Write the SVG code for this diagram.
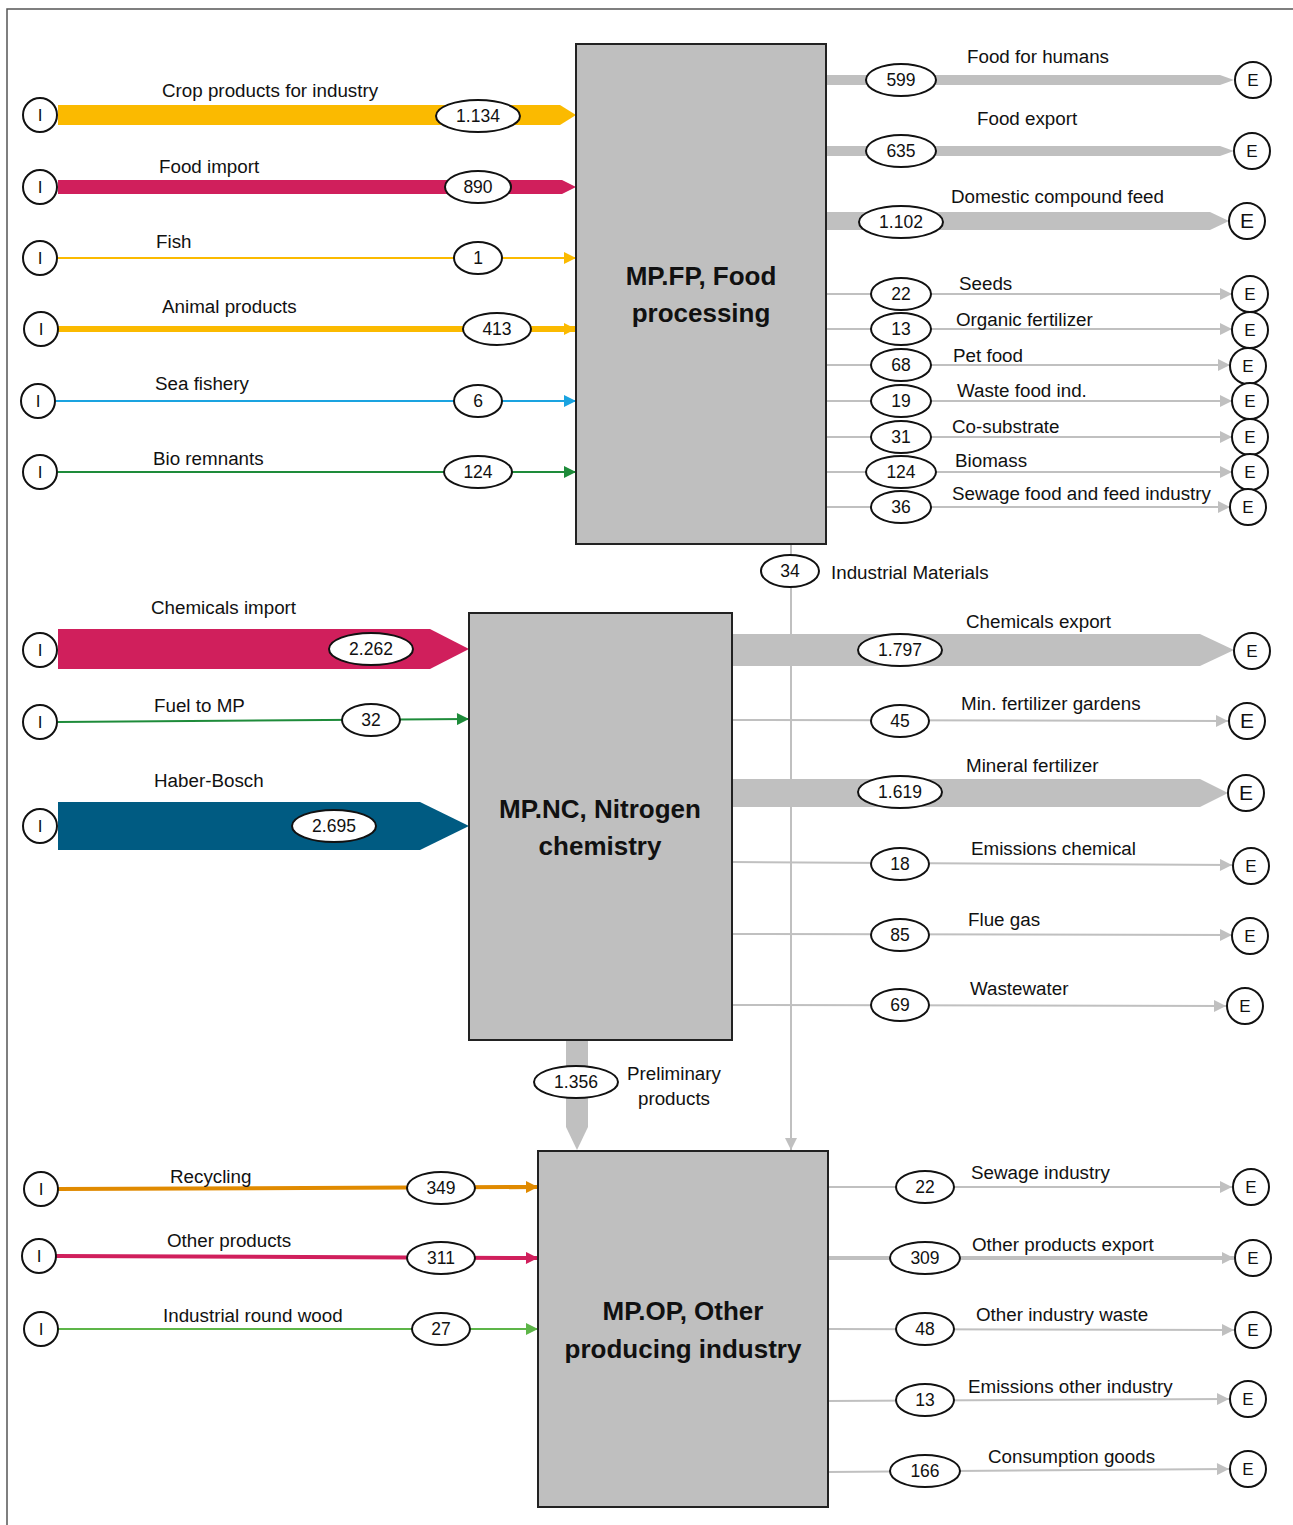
<svg xmlns="http://www.w3.org/2000/svg" width="1293" height="1525" viewBox="0 0 1293 1525">
<style>
text{font-family:"Liberation Sans",Arial,sans-serif;fill:#111;}
.lb{font-size:18.8px;}
.num{font-size:17.5px;text-anchor:middle;}
.ttl{font-size:26px;font-weight:bold;text-anchor:middle;}
.ec{font-size:17px;text-anchor:middle;}
.box{fill:#BFBFBF;stroke:#222;stroke-width:2;}
.ell{fill:#fff;stroke:#111;stroke-width:2;}
.term{fill:#fff;stroke:#111;stroke-width:2;}
.g{stroke:#C0C0C0;fill:none;}
</style>
<defs>
<marker id="mg" viewBox="0 0 10 10" refX="10" refY="5" markerUnits="userSpaceOnUse" markerWidth="16" markerHeight="12" orient="auto"><path d="M0,0L10,5L0,10z" fill="#C0C0C0"/></marker>
<marker id="mo" viewBox="0 0 10 10" refX="10" refY="5" markerUnits="userSpaceOnUse" markerWidth="14" markerHeight="12" orient="auto"><path d="M0,0L10,5L0,10z" fill="#FBBA00"/></marker>
<marker id="mb" viewBox="0 0 10 10" refX="10" refY="5" markerUnits="userSpaceOnUse" markerWidth="14" markerHeight="12" orient="auto"><path d="M0,0L10,5L0,10z" fill="#1AA3E0"/></marker>
<marker id="mgr" viewBox="0 0 10 10" refX="10" refY="5" markerUnits="userSpaceOnUse" markerWidth="14" markerHeight="12" orient="auto"><path d="M0,0L10,5L0,10z" fill="#1E8B3A"/></marker>
<marker id="mor" viewBox="0 0 10 10" refX="10" refY="5" markerUnits="userSpaceOnUse" markerWidth="14" markerHeight="12" orient="auto"><path d="M0,0L10,5L0,10z" fill="#E08A00"/></marker>
<marker id="mcr" viewBox="0 0 10 10" refX="10" refY="5" markerUnits="userSpaceOnUse" markerWidth="14" markerHeight="12" orient="auto"><path d="M0,0L10,5L0,10z" fill="#D01F5C"/></marker>
<marker id="mlg" viewBox="0 0 10 10" refX="10" refY="5" markerUnits="userSpaceOnUse" markerWidth="14" markerHeight="12" orient="auto"><path d="M0,0L10,5L0,10z" fill="#5DB548"/></marker>
</defs>
<rect x="7" y="9" width="1300" height="1530" fill="#fff" stroke="#555" stroke-width="1.5"/>

<g id="connectors">
<!-- FP inputs -->
<polygon points="58,105 560,105 576,115 560,125 58,125" fill="#FBBA00"/>
<polygon points="58,180 562,180 576,187 562,194 58,194" fill="#D01F5C"/>
<line x1="58" y1="258" x2="576" y2="258" stroke="#FBBA00" stroke-width="2" marker-end="url(#mo)"/>
<line x1="58" y1="329" x2="576" y2="329" stroke="#FBBA00" stroke-width="6" marker-end="url(#mo)"/>
<line x1="56" y1="401" x2="576" y2="401" stroke="#1AA3E0" stroke-width="2" marker-end="url(#mb)"/>
<line x1="58" y1="472" x2="576" y2="472" stroke="#1E8B3A" stroke-width="2" marker-end="url(#mgr)"/>
<!-- FP outputs -->
<polygon points="826,75 1220,75 1234,80 1220,85 826,85" fill="#C0C0C0"/>
<polygon points="826,146 1220,146 1234,151 1220,156 826,156" fill="#C0C0C0"/>
<polygon points="826,212 1210,212 1229,221 1210,230 826,230" fill="#C0C0C0"/>
<line class="g" x1="826" y1="294" x2="1232" y2="294" stroke-width="2" marker-end="url(#mg)"/>
<line class="g" x1="826" y1="329" x2="1232" y2="329" stroke-width="2" marker-end="url(#mg)"/>
<line class="g" x1="826" y1="365" x2="1230" y2="365" stroke-width="2" marker-end="url(#mg)"/>
<line class="g" x1="826" y1="401" x2="1232" y2="401" stroke-width="2" marker-end="url(#mg)"/>
<line class="g" x1="826" y1="437" x2="1232" y2="437" stroke-width="2" marker-end="url(#mg)"/>
<line class="g" x1="826" y1="472" x2="1232" y2="472" stroke-width="2" marker-end="url(#mg)"/>
<line class="g" x1="826" y1="507" x2="1230" y2="507" stroke-width="2" marker-end="url(#mg)"/>
<!-- Industrial materials -->
<line class="g" x1="791" y1="544" x2="791" y2="1150" stroke-width="2" marker-end="url(#mg)"/>
<!-- NC inputs -->
<polygon points="58,629 430,629 469,649 430,669 58,669" fill="#D01F5C"/>
<line x1="58" y1="722" x2="469" y2="719" stroke="#1E8B3A" stroke-width="2" marker-end="url(#mgr)"/>
<polygon points="58,802 420,802 469,826 420,850 58,850" fill="#005B82"/>
<!-- NC outputs -->
<polygon points="732,634 1200,634 1234,650 1200,666 732,666" fill="#C0C0C0"/>
<line class="g" x1="732" y1="720" x2="1228" y2="721" stroke-width="2" marker-end="url(#mg)"/>
<polygon points="732,779 1200,779 1228,793 1200,807 732,807" fill="#C0C0C0"/>
<line class="g" x1="732" y1="862" x2="1232" y2="865" stroke-width="2" marker-end="url(#mg)"/>
<line class="g" x1="732" y1="934" x2="1232" y2="935" stroke-width="2" marker-end="url(#mg)"/>
<line class="g" x1="732" y1="1005" x2="1226" y2="1006" stroke-width="2" marker-end="url(#mg)"/>
<!-- Preliminary products -->
<polygon points="566,1040 588,1040 588,1127 577,1150 566,1127" fill="#C0C0C0"/>
<!-- OP inputs -->
<line x1="58" y1="1189" x2="538" y2="1187" stroke="#E08A00" stroke-width="4" marker-end="url(#mor)"/>
<line x1="56" y1="1256" x2="538" y2="1258" stroke="#D01F5C" stroke-width="4" marker-end="url(#mcr)"/>
<line x1="58" y1="1329" x2="538" y2="1329" stroke="#5DB548" stroke-width="2" marker-end="url(#mlg)"/>
<!-- OP outputs -->
<line class="g" x1="828" y1="1187" x2="1232" y2="1187" stroke-width="2" marker-end="url(#mg)"/>
<line class="g" x1="828" y1="1258" x2="1234" y2="1258" stroke-width="4" marker-end="url(#mg)"/>
<line class="g" x1="828" y1="1329" x2="1234" y2="1330" stroke-width="2" marker-end="url(#mg)"/>
<line class="g" x1="828" y1="1401" x2="1229" y2="1399" stroke-width="2" marker-end="url(#mg)"/>
<line class="g" x1="828" y1="1472" x2="1229" y2="1469" stroke-width="2" marker-end="url(#mg)"/>

<!-- value ellipses and labels -->
<g id="flow-labels">
<ellipse class="ell" cx="478" cy="116" rx="42" ry="16"/><text class="num" x="478" y="122">1.134</text>
<text class="lb" x="162" y="97">Crop products for industry</text>
<ellipse class="ell" cx="478" cy="187" rx="33" ry="16"/><text class="num" x="478" y="193">890</text>
<text class="lb" x="159" y="173">Food import</text>
<ellipse class="ell" cx="478" cy="258" rx="24" ry="16"/><text class="num" x="478" y="264">1</text>
<text class="lb" x="156" y="248">Fish</text>
<ellipse class="ell" cx="497" cy="329" rx="34" ry="16"/><text class="num" x="497" y="335">413</text>
<text class="lb" x="162" y="313">Animal products</text>
<ellipse class="ell" cx="478" cy="401" rx="24" ry="16"/><text class="num" x="478" y="407">6</text>
<text class="lb" x="155" y="390">Sea fishery</text>
<ellipse class="ell" cx="478" cy="472" rx="34" ry="16"/><text class="num" x="478" y="478">124</text>
<text class="lb" x="153" y="465">Bio remnants</text>

<ellipse class="ell" cx="901" cy="80" rx="35" ry="16"/><text class="num" x="901" y="86">599</text>
<text class="lb" x="967" y="63">Food for humans</text>
<ellipse class="ell" cx="901" cy="151" rx="35" ry="16"/><text class="num" x="901" y="157">635</text>
<text class="lb" x="977" y="125">Food export</text>
<ellipse class="ell" cx="901" cy="222" rx="42" ry="16"/><text class="num" x="901" y="228">1.102</text>
<text class="lb" x="951" y="203">Domestic compound feed</text>
<ellipse class="ell" cx="901" cy="294" rx="30" ry="16"/><text class="num" x="901" y="300">22</text>
<text class="lb" x="959" y="290">Seeds</text>
<ellipse class="ell" cx="901" cy="329" rx="30" ry="16"/><text class="num" x="901" y="335">13</text>
<text class="lb" x="956" y="326">Organic fertilizer</text>
<ellipse class="ell" cx="901" cy="365" rx="30" ry="16"/><text class="num" x="901" y="371">68</text>
<text class="lb" x="953" y="362">Pet food</text>
<ellipse class="ell" cx="901" cy="401" rx="30" ry="16"/><text class="num" x="901" y="407">19</text>
<text class="lb" x="957" y="397">Waste food ind.</text>
<ellipse class="ell" cx="901" cy="437" rx="30" ry="16"/><text class="num" x="901" y="443">31</text>
<text class="lb" x="952" y="433">Co-substrate</text>
<ellipse class="ell" cx="901" cy="472" rx="35" ry="16"/><text class="num" x="901" y="478">124</text>
<text class="lb" x="955" y="467">Biomass</text>
<ellipse class="ell" cx="901" cy="507" rx="30" ry="16"/><text class="num" x="901" y="513">36</text>
<text class="lb" x="952" y="500">Sewage food and feed industry</text>

<ellipse class="ell" cx="790" cy="571" rx="29" ry="16"/><text class="num" x="790" y="577">34</text>
<text class="lb" x="831" y="579">Industrial Materials</text>

<ellipse class="ell" cx="371" cy="649" rx="42" ry="16"/><text class="num" x="371" y="655">2.262</text>
<text class="lb" x="151" y="614">Chemicals import</text>
<ellipse class="ell" cx="371" cy="720" rx="29" ry="16"/><text class="num" x="371" y="726">32</text>
<text class="lb" x="154" y="712">Fuel to MP</text>
<ellipse class="ell" cx="334" cy="826" rx="42" ry="16"/><text class="num" x="334" y="832">2.695</text>
<text class="lb" x="154" y="787">Haber-Bosch</text>

<ellipse class="ell" cx="900" cy="650" rx="42" ry="16"/><text class="num" x="900" y="656">1.797</text>
<text class="lb" x="966" y="628">Chemicals export</text>
<ellipse class="ell" cx="900" cy="721" rx="29" ry="16"/><text class="num" x="900" y="727">45</text>
<text class="lb" x="961" y="710">Min. fertilizer gardens</text>
<ellipse class="ell" cx="900" cy="792" rx="42" ry="16"/><text class="num" x="900" y="798">1.619</text>
<text class="lb" x="966" y="772">Mineral fertilizer</text>
<ellipse class="ell" cx="900" cy="864" rx="29" ry="16"/><text class="num" x="900" y="870">18</text>
<text class="lb" x="971" y="855">Emissions chemical</text>
<ellipse class="ell" cx="900" cy="935" rx="29" ry="16"/><text class="num" x="900" y="941">85</text>
<text class="lb" x="968" y="926">Flue gas</text>
<ellipse class="ell" cx="900" cy="1005" rx="29" ry="16"/><text class="num" x="900" y="1011">69</text>
<text class="lb" x="970" y="995">Wastewater</text>

<ellipse class="ell" cx="576" cy="1082" rx="42" ry="16"/><text class="num" x="576" y="1088">1.356</text>
<text class="lb" x="674" y="1080" text-anchor="middle">Preliminary</text>
<text class="lb" x="674" y="1105" text-anchor="middle">products</text>

<ellipse class="ell" cx="441" cy="1188" rx="34" ry="16"/><text class="num" x="441" y="1194">349</text>
<text class="lb" x="170" y="1183">Recycling</text>
<ellipse class="ell" cx="441" cy="1258" rx="34" ry="16"/><text class="num" x="441" y="1264">311</text>
<text class="lb" x="167" y="1247">Other products</text>
<ellipse class="ell" cx="441" cy="1329" rx="29" ry="16"/><text class="num" x="441" y="1335">27</text>
<text class="lb" x="163" y="1322">Industrial round wood</text>

<ellipse class="ell" cx="925" cy="1187" rx="29" ry="16"/><text class="num" x="925" y="1193">22</text>
<text class="lb" x="971" y="1179">Sewage industry</text>
<ellipse class="ell" cx="925" cy="1258" rx="35" ry="16"/><text class="num" x="925" y="1264">309</text>
<text class="lb" x="972" y="1251">Other products export</text>
<ellipse class="ell" cx="925" cy="1329" rx="29" ry="16"/><text class="num" x="925" y="1335">48</text>
<text class="lb" x="976" y="1321">Other industry waste</text>
<ellipse class="ell" cx="925" cy="1400" rx="29" ry="16"/><text class="num" x="925" y="1406">13</text>
<text class="lb" x="968" y="1393">Emissions other industry</text>
<ellipse class="ell" cx="925" cy="1471" rx="35" ry="16"/><text class="num" x="925" y="1477">166</text>
<text class="lb" x="988" y="1463">Consumption goods</text>
</g>
</g>

<g id="node-FP"><rect class="box" x="576" y="44" width="250" height="500"/>
<text class="ttl" x="701" y="285">MP.FP, Food</text><text class="ttl" x="701" y="322">processing</text></g>
<g id="node-NC"><rect class="box" x="469" y="613" width="263" height="427"/>
<text class="ttl" x="600" y="818">MP.NC, Nitrogen</text><text class="ttl" x="600" y="855">chemistry</text></g>
<g id="node-OP"><rect class="box" x="538" y="1151" width="290" height="356"/>
<text class="ttl" x="683" y="1320">MP.OP, Other</text><text class="ttl" x="683" y="1358">producing industry</text></g>

<g id="sources">
<g id="I1"><circle class="term" cx="40" cy="115" r="17"/><text class="ec" x="40" y="121">I</text></g>
<g id="I2"><circle class="term" cx="40" cy="187" r="17"/><text class="ec" x="40" y="193">I</text></g>
<g id="I3"><circle class="term" cx="40" cy="258" r="17"/><text class="ec" x="40" y="264">I</text></g>
<g id="I4"><circle class="term" cx="41" cy="329" r="17"/><text class="ec" x="41" y="335">I</text></g>
<g id="I5"><circle class="term" cx="38" cy="401" r="17"/><text class="ec" x="38" y="407">I</text></g>
<g id="I6"><circle class="term" cx="40" cy="472" r="17"/><text class="ec" x="40" y="478">I</text></g>
<g id="I7"><circle class="term" cx="40" cy="650" r="17"/><text class="ec" x="40" y="656">I</text></g>
<g id="I8"><circle class="term" cx="40" cy="722" r="17"/><text class="ec" x="40" y="728">I</text></g>
<g id="I9"><circle class="term" cx="40" cy="826" r="17"/><text class="ec" x="40" y="832">I</text></g>
<g id="I10"><circle class="term" cx="41" cy="1189" r="17"/><text class="ec" x="41" y="1195">I</text></g>
<g id="I11"><circle class="term" cx="39" cy="1256" r="17"/><text class="ec" x="39" y="1262">I</text></g>
<g id="I12"><circle class="term" cx="41" cy="1329" r="17"/><text class="ec" x="41" y="1335">I</text></g>
</g>
<g id="sinks">
<g><circle class="term" cx="1253" cy="80" r="18"/><text class="ec" x="1253" y="86">E</text></g>
<g><circle class="term" cx="1252" cy="151" r="18"/><text class="ec" x="1252" y="157">E</text></g>
<g><circle class="term" cx="1247" cy="221" r="18"/><text class="ec" x="1247" y="228" style="font-size:21px">E</text></g>
<g><circle class="term" cx="1250" cy="294" r="18"/><text class="ec" x="1250" y="300">E</text></g>
<g><circle class="term" cx="1250" cy="330" r="18"/><text class="ec" x="1250" y="336">E</text></g>
<g><circle class="term" cx="1248" cy="366" r="18"/><text class="ec" x="1248" y="372">E</text></g>
<g><circle class="term" cx="1250" cy="401" r="18"/><text class="ec" x="1250" y="407">E</text></g>
<g><circle class="term" cx="1250" cy="437" r="18"/><text class="ec" x="1250" y="443">E</text></g>
<g><circle class="term" cx="1250" cy="472" r="18"/><text class="ec" x="1250" y="478">E</text></g>
<g><circle class="term" cx="1248" cy="507" r="18"/><text class="ec" x="1248" y="513">E</text></g>
<g><circle class="term" cx="1252" cy="651" r="18"/><text class="ec" x="1252" y="657">E</text></g>
<g><circle class="term" cx="1247" cy="721" r="18"/><text class="ec" x="1247" y="728" style="font-size:21px">E</text></g>
<g><circle class="term" cx="1246" cy="793" r="18"/><text class="ec" x="1246" y="800" style="font-size:21px">E</text></g>
<g><circle class="term" cx="1251" cy="866" r="18"/><text class="ec" x="1251" y="872">E</text></g>
<g><circle class="term" cx="1250" cy="936" r="18"/><text class="ec" x="1250" y="942">E</text></g>
<g><circle class="term" cx="1245" cy="1006" r="18"/><text class="ec" x="1245" y="1012">E</text></g>
<g><circle class="term" cx="1251" cy="1187" r="18"/><text class="ec" x="1251" y="1193">E</text></g>
<g><circle class="term" cx="1253" cy="1258" r="18"/><text class="ec" x="1253" y="1264">E</text></g>
<g><circle class="term" cx="1253" cy="1330" r="18"/><text class="ec" x="1253" y="1336">E</text></g>
<g><circle class="term" cx="1248" cy="1399" r="18"/><text class="ec" x="1248" y="1405">E</text></g>
<g><circle class="term" cx="1248" cy="1469" r="18"/><text class="ec" x="1248" y="1475">E</text></g>
</g>
</svg>
